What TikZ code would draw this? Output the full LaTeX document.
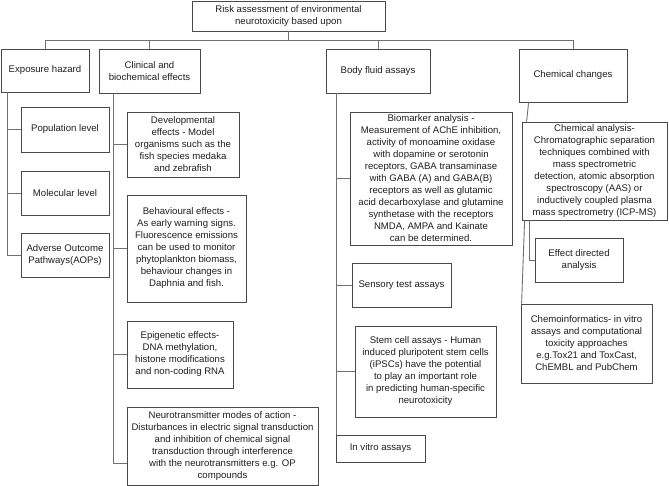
\documentclass[tikz,border=0pt]{standalone}
\usepackage{fontspec}
\setmainfont{Liberation Sans}
\usetikzlibrary{calc}
\definecolor{boxline}{HTML}{4A4A4A}
\definecolor{conline}{HTML}{707070}
\definecolor{txt}{HTML}{1E1E1E}
\begin{document}
\begin{tikzpicture}[x=1pt,y=-1pt,
  box/.style={draw=boxline,line width=0.8pt,inner sep=0pt,align=center,text=txt,
    font=\fontsize{9.6}{12}\selectfont},
  con/.style={draw=conline,line width=0.9pt}]
\useasboundingbox (0,0) rectangle (669,486);
% boxes
\node[box,minimum width=193,minimum height=30] (top) at (288.5,16) {Risk assessment of environmental\\neurotoxicity based upon};
\node[box,minimum width=88,minimum height=43] (exp) at (45,70.5) {Exposure hazard};
\node[box,minimum width=101,minimum height=44] (clin) at (149.5,71) {Clinical and\\biochemical effects};
\node[box,minimum width=104,minimum height=44] (body) at (378,71) {Body fluid assays};
\node[box,minimum width=108,minimum height=53] (chem) at (573,75.5) {Chemical changes};
\node[box,minimum width=88,minimum height=45] (pop) at (65,129.5) {Population level};
\node[box,minimum width=88,minimum height=44] (mol) at (65,193) {Molecular level};
\node[box,minimum width=88,minimum height=44] (aop) at (65,255) {Adverse Outcome\\Pathways(AOPs)};
\node[box,minimum width=112,minimum height=65] (dev) at (183,144.5) {Developmental\\effects - Model\\organisms such as the\\fish species medaka\\and zebrafish};
\node[box,minimum width=119,minimum height=107] (beh) at (186.5,248.5) {Behavioural effects -\\As early warning signs.\\Fluorescence emissions\\can be used to monitor\\phytoplankton biomass,\\behaviour changes in\\Daphnia and fish.};
\node[box,minimum width=106,minimum height=67] (epi) at (180,354.5) {Epigenetic effects-\\DNA methylation,\\histone modifications\\and non-coding RNA};
\node[box,minimum width=191,minimum height=78] (neu) at (222.5,446) {Neurotransmitter modes of action -\\Disturbances in electric signal transduction\\and inhibition of chemical signal\\transduction through interference\\with the neurotransmitters e.g. OP\\compounds};
\node[box,minimum width=162,minimum height=133] (bio) at (431,178.5) {Biomarker analysis -\\Measurement of AChE inhibition,\\activity of monoamine oxidase\\with dopamine or serotonin\\receptors, GABA transaminase\\with GABA (A) and GABA(B)\\receptors as well as glutamic\\acid decarboxylase and glutamine\\synthetase with the receptors\\NMDA, AMPA and Kainate\\can be determined.};
\node[box,minimum width=99,minimum height=44] (sens) at (401.5,285) {Sensory test assays};
\node[box,minimum width=141,minimum height=91] (stem) at (425.5,371.5) {Stem cell assays - Human\\induced pluripotent stem cells\\(iPSCs) have the potential\\to play an important role\\in predicting human-specific\\neurotoxicity};
\node[box,minimum width=89,minimum height=27] (vitro) at (380.5,448.5) {In vitro assays};
\node[box,minimum width=145,minimum height=98] (ana) at (594.5,171) {Chemical analysis-\\Chromatographic separation\\techniques combined with\\mass spectrometric\\detection, atomic absorption\\spectroscopy (AAS) or\\inductively coupled plasma\\mass spectrometry (ICP-MS)};
\node[box,minimum width=88,minimum height=44] (eff) at (579,260) {Effect directed\\analysis};
\node[box,minimum width=131,minimum height=79] (info) at (586.5,343.5) {Chemoinformatics- in vitro\\assays and computational\\toxicity approaches\\e.g.Tox21 and ToxCast,\\ChEMBL and PubChem};
% top bus
\coordinate (bus) at (288.5,40);
\draw[con] (top.south) -- (bus);
\draw[con] (exp.north) -- (exp.north |- bus) -- (chem.north |- bus) -- (chem.north);
\draw[con] (clin.north) -- (clin.north |- bus);
\draw[con] (body.north) -- (body.north |- bus);
% exposure hazard
\coordinate (ex) at ($(exp.south west)+(7,0)$);
\draw[con] (ex) |- (aop.west);
\draw[con] (pop.west) -- (pop.west -| ex);
\draw[con] (mol.west) -- (mol.west -| ex);
% clinical
\coordinate (cx) at ($(clin.south west)+(15,0)$);
\coordinate (nc) at ($(neu.south west)+(0,-22)$);
\draw[con] (cx) |- (nc);
\draw[con] (dev.west) -- (dev.west -| cx);
\draw[con] (beh.west) -- (beh.west -| cx);
\draw[con] (epi.west) -- (epi.west -| cx);
% body fluid
\coordinate (bx) at ($(vitro.north west)+(1,0)$);
\draw[con] (body.south -| bx) -- (bx);
\draw[con] (bio.west) -- (bio.west -| bx);
\draw[con] (sens.west) -- (sens.west -| bx);
\draw[con] (stem.west) -- (stem.west -| bx);
% chemical
\draw[con] ($(chem.south west)+(10,0)$) -- ($(ana.north west)+(5,0)$);
\draw[con] ($(ana.south west)+(8,0)$) |- (eff.west);
\draw[con] ($(ana.south west)+(3,0)$) -- ($(info.north west)+(1,0)$);
\end{tikzpicture}
\end{document}
